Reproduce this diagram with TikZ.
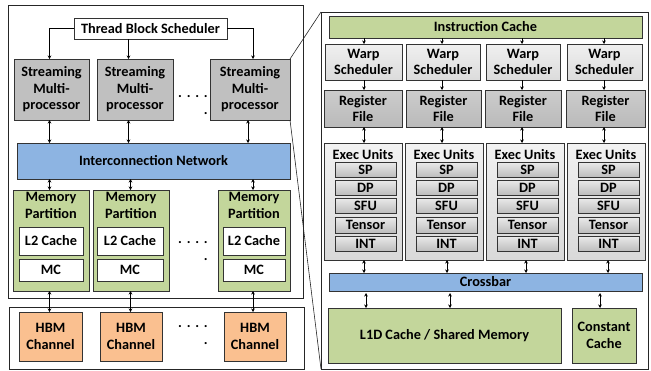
\documentclass[tikz,border=0pt]{standalone}
\usepackage{fontspec}
\setmainfont{Carlito}
\usetikzlibrary{arrows.meta}

\definecolor{netblue}{HTML}{8DB4E2}
\definecolor{memgreen}{HTML}{C3D69B}
\definecolor{hbmorange}{HTML}{FAC090}
\definecolor{smgray}{HTML}{C0C0C0}

% box from corner (x1,y1) to corner (x2,y2), in pixel-like units
\newcommand\bx[7]{\node[#2, minimum width={(#5)-(#3)}, minimum height={(#6)-(#4)}]
  (#1) at ({((#3)+(#5))/2},{((#4)+(#6))/2}) {#7};}

\tikzset{
  lab/.style={font=\bfseries\fontsize{14.3}{16.5}\selectfont, align=center, text=black},
  blk/.style={lab, draw=black!80, line width=0.9pt, inner sep=0pt, outer sep=0pt},
  frame/.style={blk, draw=black!85},
  whitebox/.style={blk, fill=white},
  smbox/.style={blk, fill=smgray},
  netbox/.style={blk, fill=netblue},
  membox/.style={blk, fill=memgreen},
  hbmbox/.style={blk, fill=hbmorange},
  warpbox/.style={blk, top color=black!6, bottom color=black!14},
  regbox/.style={blk, top color=black!20, bottom color=black!27},
  exbox/.style={blk, top color=black!5, bottom color=black!15},
  unitbox/.style={blk, top color=black!8, bottom color=black!26},
  arr/.style={-{Stealth[length=3.5pt,width=3.5pt]}, line width=0.7pt},
  darr/.style={{Stealth[length=3.5pt,width=3.5pt]}-{Stealth[length=3.5pt,width=3.5pt]}, line width=0.7pt},
  dots/.style={lab, align=right, inner sep=0pt},
  zoomline/.style={line width=0.6pt, draw=black!85}
}

\begin{document}
\begin{tikzpicture}[x=1pt, y=-1pt]
\useasboundingbox (0,0) rectangle (651,370);

% ---------------- GPU overview (left) ----------------
\bx{gpu}{frame}{8}{5}{303}{298}{}
\bx{hbm}{frame}{9}{307}{304}{369}{}

\bx{tbs}{whitebox}{74}{18}{227}{39}{Thread Block Scheduler}

\bx{sm1}{smbox}{14}{59}{89}{120}{Streaming\\Multi-\\processor}
\bx{sm2}{smbox}{97}{59}{173}{120}{Streaming\\Multi-\\processor}
\bx{sm3}{smbox}{210}{59}{290}{120}{Streaming\\Multi-\\processor}
\node[dots] (d1) at (193,105) {.\,\,.\,\,.\,\,.\\[1pt].};

\bx{icn}{netbox}{17}{143}{290}{179}{Interconnection Network}

\bx{mp1}{membox}{13}{190}{89}{291}{}
\bx{mp2}{membox}{93}{190}{169}{291}{}
\bx{mp3}{membox}{218}{190}{290}{291}{}
\node[lab, inner sep=0pt] (mpt1) at (51,205.5) {Memory\\Partition};
\node[lab, inner sep=0pt] (mpt2) at (131,205.5) {Memory\\Partition};
\node[lab, inner sep=0pt] (mpt3) at (254,205.5) {Memory\\Partition};
\bx{l21}{whitebox}{19}{227}{83}{255}{L2 Cache}
\bx{mc1}{whitebox}{19}{259}{83}{281}{MC}
\bx{l22}{whitebox}{97}{227}{163}{255}{L2 Cache}
\bx{mc2}{whitebox}{97}{259}{163}{281}{MC}
\bx{l23}{whitebox}{223}{227}{285}{255}{L2 Cache}
\bx{mc3}{whitebox}{223}{259}{285}{281}{MC}
\node[dots] (d2) at (193,251) {.\,\,.\,\,.\,\,.\\[1pt].};

\bx{hb1}{hbmbox}{19}{312}{82}{361}{HBM\\Channel}
\bx{hb2}{hbmbox}{100}{312}{162}{361}{HBM\\Channel}
\bx{hb3}{hbmbox}{224}{312}{286}{361}{HBM\\Channel}
\node[dots] (d3) at (193,335) {.\,\,.\,\,.\,\,.\\[1pt].};

% columns of the left-hand connectors
\coordinate (ca) at (49.5,0);
\coordinate (cb) at (128.5,0);
\coordinate (cc) at (253,0);
\coordinate (cd) at (248,0);
\coordinate (ce) at (130.5,0);

\draw[arr] (tbs.west) -| (sm1.north -| ca);
\draw[arr] (tbs.south -| cb) -- (sm2.north -| cb);
\draw[arr] (tbs.east) -| (sm3.north -| cc);

\draw[darr] (sm1.south -| ca) -- (icn.north -| ca);
\draw[darr] (sm2.south -| cb) -- (icn.north -| cb);
\draw[darr] (sm3.south -| cd) -- (icn.north -| cd);

\draw[darr] (icn.south -| ca) -- (mp1.north -| ca);
\draw[darr] (icn.south -| ce) -- (mp2.north -| ce);
\draw[darr] (icn.south -| cc) -- (mp3.north -| cc);

\draw[darr] (mp1.south -| ca) -- (hb1.north -| ca);
\draw[darr] (mp2.south -| ce) -- (hb2.north -| ce);
\draw[darr] (mp3.south -| cc) -- (hb3.north -| cc);

% ---------------- SM detail (right) ----------------
\bx{rbox}{frame}{321}{12}{648}{369}{}
\draw[zoomline] (sm3.north east) -- (rbox.north west);
\draw[zoomline] (sm3.south east) -- (rbox.south west);

\bx{ic}{membox}{329}{16}{642}{38}{Instruction Cache}

\foreach \i/\xa/\xb/\ra/\rb/\ea/\eb/\ka/\kb in
  {1/325/402/324/402/324/402/364/364,
   2/406/480/406/481/405/483/442/447,
   3/486/560/485/561/486/564/522/526,
   4/567/642/566/645/567/645/604/608}{
  \bx{w\i}{warpbox}{\xa}{44}{\xb}{80}{Warp\\Scheduler}
  \bx{r\i}{regbox}{\ra}{90}{\rb}{127}{Register\\File}
  \bx{e\i}{exbox}{\ea}{143}{\eb}{260}{}
  \node[lab, inner sep=0pt] (et\i) at ({(\ea+\eb)/2},155) {Exec Units};
  \foreach \n/\ya/\yb in {SP/162/177, DP/180/195, SFU/198/213, Tensor/217/233, INT/236/251}{
    \bx{\n\i}{unitbox}{\ea+11}{\ya}{\eb-6}{\yb}{\n}
  }
  \coordinate (k\i) at (\ka,0);
  \coordinate (m\i) at (\kb,0);
}

\bx{xbar}{netbox}{329}{273}{642}{291}{Crossbar}
\bx{l1d}{membox}{328}{308}{561}{363}{L1D Cache / Shared Memory}
\bx{cst}{membox}{572}{308}{636}{363}{Constant\\Cache}

\foreach \i in {1,2,3,4}{
  \draw[arr] (ic.south -| k\i) -- (w\i.north -| k\i);
  \draw[arr] (w\i.south -| k\i) -- (r\i.north -| k\i);
  \draw[darr] (r\i.south -| k\i) -- (e\i.north -| k\i);
  \draw[darr] (e\i.south -| m\i) -- (xbar.north -| m\i);
}

\coordinate (xa) at (366,0);
\coordinate (xb) at (450,0);
\coordinate (xc) at (600,0);
\draw[darr] ([yshift=-2pt]xbar.south -| xa) -- (l1d.north -| xa);
\draw[darr] ([yshift=-2pt]xbar.south -| xb) -- (l1d.north -| xb);
\draw[darr] ([yshift=-2pt]xbar.south -| xc) -- (cst.north -| xc);
\end{tikzpicture}
\end{document}
